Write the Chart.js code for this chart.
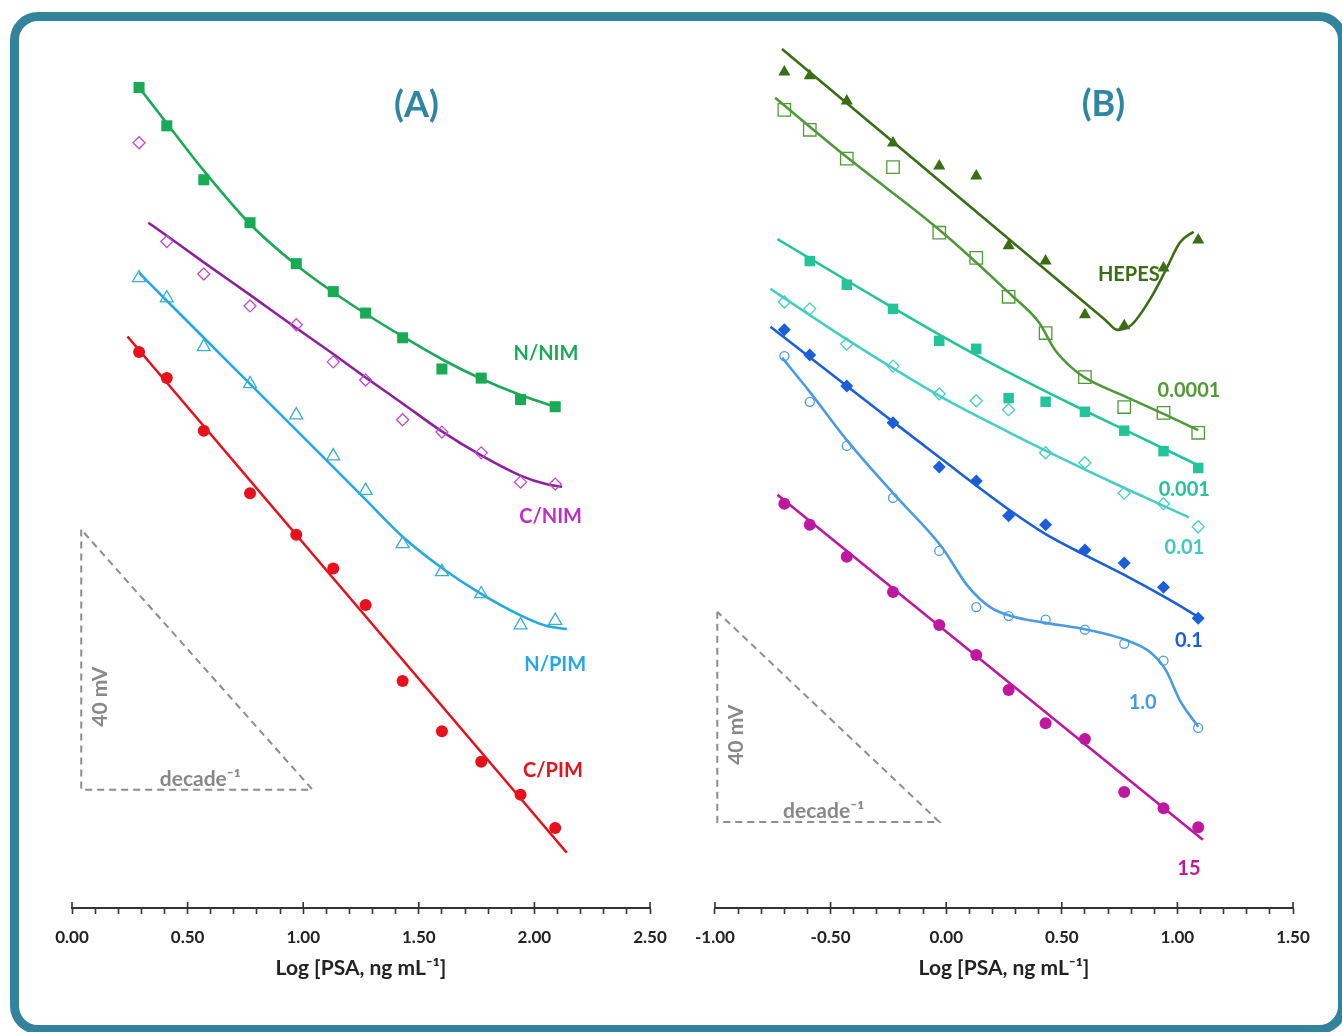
<!DOCTYPE html>
<html><head><meta charset="utf-8">
<script src="https://cdn.jsdelivr.net/npm/chart.js@4.4.1/dist/chart.umd.min.js"></script>
<style>
html,body{margin:0;padding:0;background:#fff;}
body{width:1342px;height:1032px;position:relative;overflow:hidden;}
#frame{position:absolute;left:10px;top:12px;width:1337px;height:1022px;box-sizing:border-box;border:9px solid #31849b;border-radius:28px;}
#ca{position:absolute;left:22px;top:22px;}
#cb{position:absolute;left:682px;top:22px;}
</style></head><body>
<div id="frame"></div>
<canvas id="ca" width="660" height="1000"></canvas>
<canvas id="cb" width="650" height="1000"></canvas>
<script>
// ---------- Panel A data (x = log[PSA], y = potential, mV, relative) ----------
const xA = [0.29,0.41,0.57,0.77,0.97,1.13,1.27,1.43,1.60,1.77,1.94,2.09];
const nNimA = [126.2,120.3,112.0,105.4,99.1,94.8,91.5,87.7,82.9,81.5,78.2,77.1];
const cNimA = [117.7,102.5,97.5,92.6,89.7,84.0,81.2,75.1,73.2,70.0,65.5,65.2];
const nPimA = [96.9,93.8,86.3,80.6,75.8,69.5,64.2,56.0,51.7,48.3,43.5,44.2];
const cPimA = [85.5,81.5,73.4,63.8,57.4,52.2,46.6,34.9,27.2,22.5,17.4,12.3];

const nNimFitX = [0.29,0.41,0.57,0.77,0.97,1.13,1.27,1.43,1.60,1.77,1.94,2.09];
const nNimFitY = [126.2,120.7,113.4,105.2,98.9,94.7,91.4,87.9,84.4,81.4,78.9,77.1];
const cNimFitX = [0.33,0.41,0.57,0.77,0.97,1.13,1.27,1.43,1.60,1.77,1.94,2.05,2.12];
const cNimFitY = [105.4,103.4,99.3,94.3,89.2,85.2,81.6,77.6,73.3,69.6,66.5,65.2,64.8];
const nPimFitX = [0.29,0.41,0.57,0.77,0.97,1.13,1.27,1.43,1.60,1.77,1.94,2.05,2.14];
const nPimFitY = [97.7,93.4,87.7,80.6,73.5,67.8,62.8,57.1,52.3,48.3,45.0,43.4,42.9];
const cPimFitX = [0.24,2.14];
const cPimFitY = [87.9,8.5];
const triAX = [0.04,0.04,1.04,0.04];
const triAY = [58.2,18.2,18.2,58.2];
const namesA = ['N/NIM','C/NIM','N/PIM','C/PIM'];

// ---------- Panel B data ----------
const xB = [-0.70,-0.59,-0.43,-0.23,-0.03,0.13,0.27,0.43,0.60,0.77,0.94,1.09];
const hepesB = [159.2,158.5,153.7,145.7,141.3,139.4,126.1,123.2,113.0,110.9,121.9,127.2];
const c0001B = [152.0,148.2,142.7,141.1,128.6,123.8,116.4,109.5,101.1,95.4,94.3,90.5];
const c001B = [null,123.2,118.7,114.1,108.0,106.5,97.1,96.4,94.5,90.9,87.0,83.8];
const c01B = [115.4,114.1,107.4,103.2,97.9,96.6,94.9,86.7,84.8,79.0,77.0,72.6];
const c1B = [110.1,105.3,99.4,92.4,84.0,81.3,74.7,73.0,68.2,65.7,61.1,55.2];
const c10B = [105.1,96.4,88.0,78.1,68.0,57.3,55.6,54.9,53.0,50.3,47.1,34.3];
const c15B = [77.0,73.0,66.9,60.2,53.9,48.2,41.5,35.2,32.2,22.1,19.0,15.4];

const hepesFitX = [-0.71,0.62,0.69,0.74,0.80,0.88,0.95,1.01,1.07];
const hepesFitY = [163.6,114.5,111.9,110.1,111.0,115.8,121.5,126.7,128.8];
const c0001FitX = [-0.74,-0.43,-0.02,0.28,0.40,0.47,0.54,0.60,0.78,0.95,1.09];
const c0001FitY = [154.3,143.0,128.8,116.8,111.6,106.3,103.0,101.0,97.3,93.9,91.0];
const c001FitX = [-0.73,-0.59,-0.43,-0.23,-0.03,0.13,0.27,0.43,0.60,0.77,0.94,1.09];
const c001FitY = [127.4,123.7,119.5,114.3,109.2,105.3,102.0,98.4,94.7,91.1,87.5,84.3];
const c01FitX = [-0.76,-0.43,-0.23,-0.02,0.28,0.43,0.61,0.78,0.95,1.05];
const c01FitY = [117.9,108.3,102.8,97.3,90.4,87.1,83.3,79.8,76.4,74.4];
const c1FitX = [-0.76,-0.43,-0.23,-0.02,0.28,0.43,0.61,0.78,0.95,1.10];
const c1FitY = [110.7,99.4,92.6,85.5,75.6,71.2,67.0,63.2,59.1,55.2];
const c10FitX = [-0.71,-0.59,-0.43,-0.23,-0.02,0.09,0.19,0.28,0.43,0.61,0.78,0.88,0.95,1.01,1.09];
const c10FitY = [104.8,98.3,89.1,79.0,68.8,61.5,57.3,55.6,54.3,53.0,51.0,48.8,45.3,39.6,34.5];
const c15FitX = [-0.73,1.11];
const c15FitY = [78.7,13.0];
const triBX = [-0.99,-0.99,-0.03,-0.99];
const triBY = [56.4,16.4,16.4,56.4];
const namesB = ['HEPES','0.0001','0.001','0.01','0.1','1.0','15'];

const xRangeA = [0, 2.5];
const xRangeB = [-1, 1.5];

// ---------- helpers ----------
const FONT = 'Lato, "Open Sans", "DejaVu Sans", sans-serif';
const pts = (xs, ys) => xs.map((x, i) => ({x, y: ys[i]}));

function pointSet(xs, ys, color, style, r, filled, border) {
  return {data: pts(xs, ys), showLine: false, pointStyle: style, pointRadius: r,
    pointBackgroundColor: filled ? color : 'rgba(0,0,0,0)', pointBorderColor: color,
    pointBorderWidth: filled ? 0 : (border || 1.3), order: 0, clip: false};
}
function fitSet(xs, ys, color) {
  return {data: pts(xs, ys), showLine: true, borderColor: color, borderWidth: 2.6,
    pointRadius: 0, cubicInterpolationMode: 'monotone', order: 1, clip: false, fill: false};
}
function triSet(xs, ys) {
  return {data: pts(xs, ys), showLine: true, borderColor: '#8c8c8c', borderWidth: 2,
    borderDash: [7, 5], pointRadius: 0, tension: 0, order: 2, clip: false};
}

const textPlugin = {
  id: 'texts',
  afterDraw(chart, args, opts) {
    const {ctx, scales: {x, y}} = chart;
    // raised half of major ticks
    ctx.save();
    ctx.strokeStyle = '#333'; ctx.lineWidth = 1.6;
    x.ticks.forEach(t => {
      if (Math.abs(t.value * 2 - Math.round(t.value * 2)) < 1e-6) {
        const px = x.getPixelForValue(t.value);
        ctx.beginPath(); ctx.moveTo(px, x.top - 6); ctx.lineTo(px, x.top); ctx.stroke();
      }
    });
    ctx.restore();
    (opts.items || []).forEach(t => {
      ctx.save();
      ctx.font = 'bold ' + t.size + 'px ' + FONT;
      ctx.fillStyle = t.color; ctx.textAlign = 'center'; ctx.textBaseline = 'middle';
      ctx.translate(x.getPixelForValue(t.x), y.getPixelForValue(t.y));
      if (t.rot) ctx.rotate(t.rot * Math.PI / 180);
      ctx.fillText(t.text, 0, 0);
      ctx.restore();
    });
  }
};

function xAxis(range) {
  return {
    type: 'linear', min: range[0], max: range[1],
    afterFit(s) { s.height = 100; },
    border: {display: true, color: '#333', width: 2},
    grid: {drawOnChartArea: false, drawTicks: true, tickLength: 6, tickColor: '#333', tickWidth: 1.6},
    ticks: {stepSize: 0.1, autoSkip: false, maxRotation: 0, padding: 13, color: '#222',
      font: {family: FONT, size: 17, weight: 'bold'},
      callback: v => (Math.abs(v * 2 - Math.round(v * 2)) < 1e-6 ? v.toFixed(2) : '')},
    title: {display: true, text: 'Log [PSA, ng mL⁻¹]', color: '#222',
      font: {family: FONT, size: 21, weight: 'bold'}, padding: {top: 0, bottom: 27}}
  };
}

function makeChart(id, datasets, xr, ymax, pad, items) {
  return new Chart(document.getElementById(id), {
    type: 'scatter',
    data: {datasets},
    plugins: [textPlugin],
    options: {
      responsive: false, animation: false, events: [],
      layout: {padding: pad},
      scales: {x: xAxis(xr), y: {display: false, min: 0, max: ymax}},
      plugins: {legend: {display: false}, tooltip: {enabled: false}, texts: {items}}
    }
  });
}

// ---------- Panel A ----------
const colA = {nnim: '#1aaa55', cnimLine: '#8e1f9e', cnimPt: '#c24bc9', cnimLbl: '#c02cc6',
  npimLine: '#22a9e1', npimPt: '#3aaed0', cpim: '#e8101a'};
makeChart('ca', [
  pointSet(xA, nNimA, colA.nnim, 'rect', 7.8, true),
  pointSet(xA, cNimA, colA.cnimPt, 'rectRot', 6, false),
  pointSet(xA, nPimA, colA.npimPt, 'triangle', 7.5, false),
  pointSet(xA, cPimA, colA.cpim, 'circle', 6, true),
  fitSet(nNimFitX, nNimFitY, colA.nnim),
  fitSet(cNimFitX, cNimFitY, colA.cnimLine),
  fitSet(nPimFitX, nPimFitY, colA.npimLine),
  fitSet(cPimFitX, cPimFitY, colA.cpim),
  triSet(triAX, triAY)
], xRangeA, 133.5, {left: 50, right: 32, top: 18, bottom: 14}, [
  {text: namesA[0], x: 2.05, y: 85.2, color: colA.nnim, size: 20},
  {text: namesA[1], x: 2.07, y: 60.2, color: colA.cnimLbl, size: 20},
  {text: namesA[2], x: 2.09, y: 37.4, color: colA.npimLine, size: 20},
  {text: namesA[3], x: 2.08, y: 21.2, color: colA.cpim, size: 20},
  {text: '(A)', x: 1.49, y: 123.5, color: '#2e86a3', size: 36},
  {text: '40 mV', x: 0.12, y: 32.5, color: '#888888', size: 21, rot: -90},
  {text: 'decade⁻¹', x: 0.555, y: 19.8, color: '#888888', size: 21}
]);

// ---------- Panel B ----------
const colB = {hepes: '#3b6e14', c0001: '#4f9a38', c001: '#22c49a', c01: '#45cfc3',
  c01Lbl: '#3fc9bf', c1: '#1a5fd8', c10: '#4b9be2', c15: '#c0179f'};
makeChart('cb', [
  pointSet(xB, hepesB, colB.hepes, 'triangle', 7, true),
  pointSet(xB, c0001B, colB.c0001, 'rect', 8.8, false),
  pointSet(xB, c001B, colB.c001, 'rect', 7.4, true),
  pointSet(xB, c01B, colB.c01, 'rectRot', 6, false),
  pointSet(xB, c1B, colB.c1, 'rectRot', 6.5, true),
  pointSet(xB, c10B, colB.c10, 'circle', 4.5, false),
  pointSet(xB, c15B, colB.c15, 'circle', 6, true),
  fitSet(hepesFitX, hepesFitY, colB.hepes),
  fitSet(c0001FitX, c0001FitY, colB.c0001),
  fitSet(c001FitX, c001FitY, colB.c001),
  fitSet(c01FitX, c01FitY, colB.c01),
  fitSet(c1FitX, c1FitY, colB.c1),
  fitSet(c10FitX, c10FitY, colB.c10),
  fitSet(c15FitX, c15FitY, colB.c15),
  triSet(triBX, triBY)
], xRangeB, 165.3, {left: 32, right: 39, top: 18, bottom: 14}, [
  {text: namesB[0], x: 0.79, y: 120.6, color: colB.hepes, size: 20},
  {text: namesB[1], x: 1.05, y: 98.5, color: colB.c0001, size: 20},
  {text: namesB[2], x: 1.03, y: 79.6, color: colB.c001, size: 20},
  {text: namesB[3], x: 1.03, y: 68.6, color: colB.c01Lbl, size: 20},
  {text: namesB[4], x: 1.05, y: 51.0, color: colB.c1, size: 20},
  {text: namesB[5], x: 0.85, y: 39.2, color: colB.c10, size: 20},
  {text: namesB[6], x: 1.05, y: 7.6, color: colB.c15, size: 20},
  {text: '(B)', x: 0.68, y: 153.0, color: '#2e86a3', size: 36},
  {text: '40 mV', x: -0.91, y: 33.0, color: '#888888', size: 21, rot: -90},
  {text: 'decade⁻¹', x: -0.53, y: 18.4, color: '#888888', size: 21}
]);
</script>
</body></html>
